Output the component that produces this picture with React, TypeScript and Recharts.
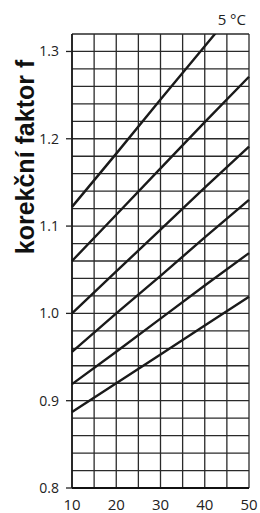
import { LineChart, Line, XAxis, YAxis, CartesianGrid, Label } from "recharts";

const temps = [10, 20, 30, 40, 50];
const curve1 = [1.122, 1.183, 1.245, 1.306, 1.367];
const curve2 = [1.06, 1.113, 1.166, 1.219, 1.271];
const curve3 = [1.0, 1.048, 1.096, 1.144, 1.191];
const curve4 = [0.956, 1.0, 1.043, 1.087, 1.13];
const curve5 = [0.919, 0.956, 0.994, 1.032, 1.069];
const curve6 = [0.887, 0.92, 0.953, 0.986, 1.019];

const xTicks = [10, 15, 20, 25, 30, 35, 40, 45, 50];
const xLabels = [10, 20, 30, 40, 50];
const yTicks = [
  0.8, 0.82, 0.84, 0.86, 0.88, 0.9, 0.92, 0.94, 0.96, 0.98, 1.0, 1.02, 1.04,
  1.06, 1.08, 1.1, 1.12, 1.14, 1.16, 1.18, 1.2, 1.22, 1.24, 1.26, 1.28, 1.3,
  1.32,
];
const yLabels = [0.8, 0.9, 1.0, 1.1, 1.2, 1.3];

const series = [curve1, curve2, curve3, curve4, curve5, curve6];
const data = temps.map((t, i) => {
  const row: Record<string, number> = { t };
  series.forEach((s, k) => (row["c" + (k + 1)] = s[i]));
  return row;
});

const FONT = "'Open Sans', sans-serif";

function YTick({ x, y, payload }: any) {
  const v = payload.value;
  if (!yLabels.some((l) => Math.abs(l - v) < 1e-6)) return null;
  return (
    <g>
      <line x1={x - 6} x2={x} y1={y} y2={y} stroke="#222" strokeWidth={1.3} />
      <text x={x - 13} y={y + 5} textAnchor="end" fontSize={14} fill="#222" fontFamily={FONT}>
        {v.toFixed(1)}
      </text>
    </g>
  );
}

function XTick({ x, y, payload }: any) {
  if (!xLabels.includes(payload.value)) return null;
  return (
    <text x={x} y={y + 22} textAnchor="middle" fontSize={15} fill="#222" fontFamily={FONT}>
      {payload.value}
    </text>
  );
}

function Titles() {
  return (
    <g>
      <text
        x={34}
        y={157}
        transform="rotate(-90 34 157)"
        textAnchor="middle"
        fontSize={25}
        fontWeight="bold"
        fill="#111"
        fontFamily="'Liberation Sans', Arial, sans-serif"
      >
        korekční faktor f
      </text>
      <text x={246} y={25} textAnchor="end" fontSize={15} fill="#222" fontFamily={FONT}>
        5 °C
      </text>
    </g>
  );
}

export default function App() {
  return (
    <div style={{ position: "absolute", left: 0, top: 0, background: "#fff" }}>
      <LineChart width={260} height={513} data={data} margin={{ top: 34, right: 11, left: 0, bottom: 0 }}>
        <CartesianGrid stroke="#2a2a2a" strokeWidth={1.3} />
        <XAxis
          dataKey="t"
          type="number"
          domain={[10, 50]}
          ticks={xTicks}
          tick={<XTick />}
          tickSize={0}
          tickMargin={0}
          tickLine={false}
          height={25}
          axisLine={{ stroke: "#111", strokeWidth: 2.2 }}
        />
        <YAxis
          type="number"
          domain={[0.8, 1.32]}
          allowDataOverflow
          ticks={yTicks}
          tick={<YTick />}
          tickSize={0}
          tickMargin={0}
          tickLine={false}
          width={72}
          interval={0}
          axisLine={{ stroke: "#111", strokeWidth: 1.5 }}
        >
          <Label content={() => <Titles />} />
        </YAxis>
        {series.map((_, k) => (
          <Line
            key={k}
            dataKey={"c" + (k + 1)}
            type="linear"
            stroke="#1a1a1a"
            strokeWidth={2.4}
            dot={false}
            isAnimationActive={false}
          />
        ))}
      </LineChart>
    </div>
  );
}
